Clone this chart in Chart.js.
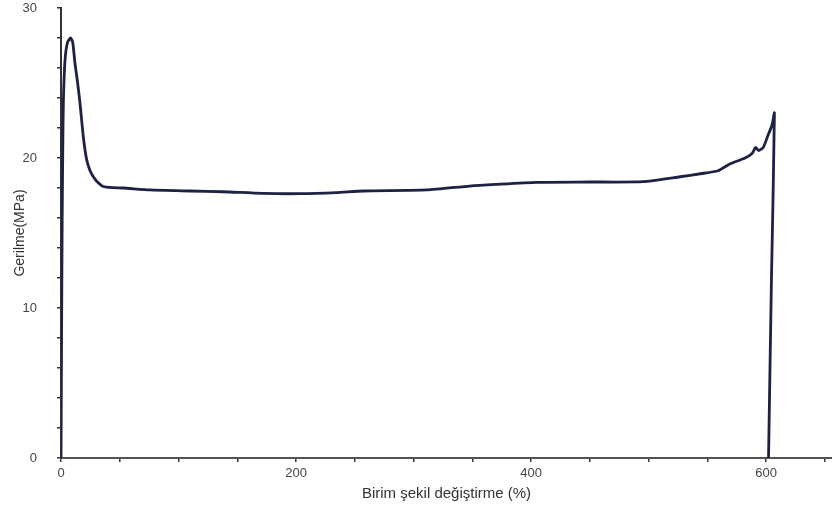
<!DOCTYPE html>
<html>
<head>
    <title>Gerilme - Birim şekil değiştirme</title>
    <script src="https://cdn.jsdelivr.net/npm/chart.js"></script>
    <style>
        html, body { margin: 0; padding: 0; background: #ffffff; }
        #chart-container { width: 832px; height: 513px; position: relative; }
    </style>
</head>
<body>
    <div id="chart-container">
        <canvas id="egriChart"></canvas>
    </div>

    <script>
        // Çekme eğrisi: birim şekil değiştirme (%) ve gerilme (MPa)
        const strain = [0, 0.3, 0.6, 1, 1.5, 2, 3.4, 5.5, 8.2, 10, 11.9, 14, 16.1, 19, 21.8, 24.5, 27.5, 31, 36, 44, 52.7,
            75.6, 110, 137.7, 171.7, 203, 234, 257, 311, 347.6, 370, 404.8, 450, 495, 526.8, 544, 559, 569, 582,
            588, 591, 593.5, 597.5, 601, 605, 607, 604.5, 602];
        const stress = [0, 5, 10, 16, 20.5, 23.7, 26.5, 27.7, 28.0, 27.7, 26.3, 25.1, 23.7, 21.4, 19.9, 19.2, 18.75, 18.4, 18.1, 18.02, 18.0,
            17.87, 17.8, 17.75, 17.64, 17.62, 17.69, 17.8, 17.87, 18.13, 18.24, 18.38, 18.4, 18.42, 18.75, 18.95, 19.15, 19.6, 20.0,
            20.3, 20.7, 20.5, 20.7, 21.4, 22.2, 23.0, 12, 0];

        const xTicks = [0, 50, 100, 150, 200, 250, 300, 350, 400, 450, 500, 550, 600, 650];
        const xLabels = [0, 200, 400, 600];
        const yTicks = [0, 2, 4, 6, 8, 10, 12, 14, 16, 18, 20, 22, 24, 26, 28, 30];
        const yLabels = [0, 10, 20, 30];

        const points = strain.map((x, i) => ({ x: x, y: stress[i] }));

        const ctx = document.getElementById('egriChart').getContext('2d');
        new Chart(ctx, {
            type: 'scatter',
            data: {
                datasets: [{
                    data: points,
                    showLine: true,
                    borderColor: '#1d2143',
                    borderWidth: 2.8,
                    pointRadius: 0,
                    tension: 0.2,
                    fill: false
                }]
            },
            options: {
                responsive: true,
                maintainAspectRatio: false,
                animation: false,
                layout: { padding: { top: 8, right: 0, left: 0, bottom: 0 } },
                plugins: {
                    legend: { display: false },
                    tooltip: { enabled: false }
                },
                scales: {
                    x: {
                        type: 'linear',
                        min: 0,
                        max: 656,
                        afterBuildTicks: scale => { scale.ticks = xTicks.map(v => ({ value: v })); },
                        afterFit: scale => { scale.height = 55; scale.paddingRight = 0; },
                        border: { color: '#555555', width: 2 },
                        grid: { drawOnChartArea: false, tickLength: 4, color: '#333333', lineWidth: 1.5 },
                        ticks: {
                            autoSkip: false,
                            maxRotation: 0,
                            padding: 4,
                            color: '#444444',
                            font: { family: 'Liberation Sans', size: 13 },
                            callback: v => xLabels.includes(v) ? String(v) : ''
                        },
                        title: {
                            display: true,
                            text: 'Birim şekil değiştirme (%)',
                            color: '#333333',
                            font: { family: 'Liberation Sans', size: 15 },
                            padding: { top: 0, bottom: 10 }
                        }
                    },
                    y: {
                        min: 0,
                        max: 30,
                        afterBuildTicks: scale => { scale.ticks = yTicks.map(v => ({ value: v })); },
                        // sabit eksen genişliği, üstte ek boşluk yok
                        afterFit: scale => { scale.width = 61; scale.paddingTop = 0; scale.paddingBottom = 0; },
                        border: { color: '#333333', width: 2 },
                        grid: { drawOnChartArea: false, tickLength: 4, color: '#333333', lineWidth: 1.5 },
                        ticks: {
                            autoSkip: false,
                            padding: 20,
                            color: '#444444',
                            font: { family: 'Liberation Sans', size: 13 },
                            callback: v => yLabels.includes(v) ? String(v) : ''
                        },
                        title: {
                            display: true,
                            text: 'Gerilme(MPa)',
                            color: '#333333',
                            font: { family: 'Liberation Sans', size: 14 },
                            padding: { top: 12, bottom: 0 }
                        }
                    }
                }
            }
        });
    </script>
</body>
</html>
